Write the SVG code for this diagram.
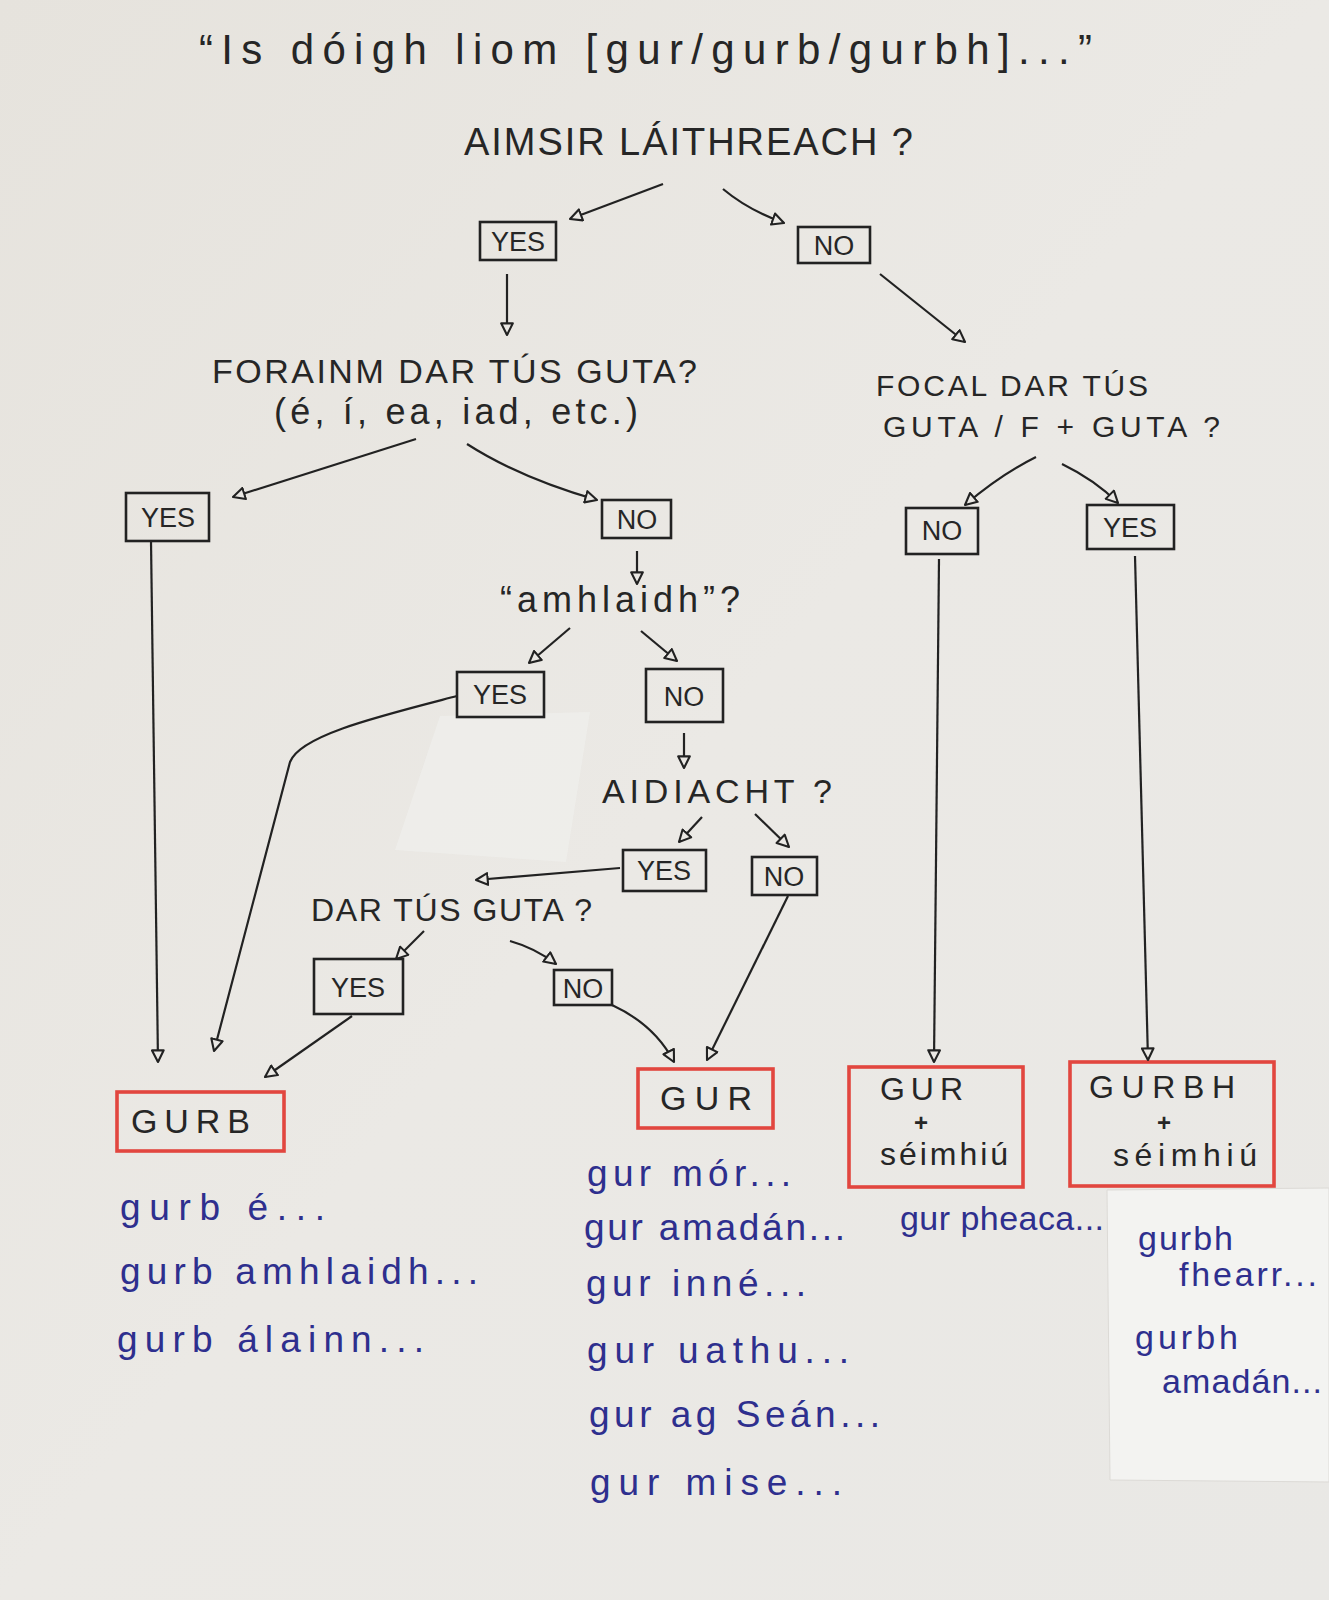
<svg xmlns="http://www.w3.org/2000/svg" width="1329" height="1600" viewBox="0 0 1329 1600">
<defs>
<linearGradient id="paper" x1="0" y1="0" x2="1" y2="1">
<stop offset="0" stop-color="#e6e3dd"/>
<stop offset="0.5" stop-color="#ebe9e5"/>
<stop offset="1" stop-color="#e9e8e5"/>
</linearGradient>
<marker id="ah" viewBox="0 0 12 12" refX="11" refY="6" markerWidth="14" markerHeight="14" markerUnits="userSpaceOnUse" orient="auto">
<path d="M1,1 L11,6 L1,11 Z" fill="#eae8e4" stroke="#222" stroke-width="1.8" stroke-linejoin="round"/>
</marker>
<style>
.t{font-family:"Liberation Sans","DejaVu Sans",sans-serif;fill:#262626;}
.lab{font-size:27px;text-anchor:middle;}
.bx{fill:none;stroke:#222;stroke-width:2.6;}
.rb{fill:none;stroke:#e2463f;stroke-width:3.6;}
.res{font-size:34px;}
.blue{font-family:"Liberation Sans","DejaVu Sans",sans-serif;font-size:37px;fill:#2e2f8e;}
.bs{font-size:34px;}
.c{fill:none;stroke:#222;stroke-width:2.2;marker-end:url(#ah);}
</style>
</defs>
<rect x="0" y="0" width="1329" height="1600" fill="url(#paper)"/>
<polygon points="1107,1190 1329,1188 1329,1482 1110,1480" fill="#f3f3f1" stroke="#dcdad6" stroke-width="1"/>
<polygon points="440,716 590,712 566,862 395,850" fill="#efefed" opacity="0.7"/>

<g id="title">
<text class="t" x="199" y="64" font-size="42" textLength="893" lengthAdjust="spacing">“Is dóigh liom [gur/gurb/gurbh]...”</text>
</g>
<g id="q-aimsir">
<text class="t" x="464" y="155" font-size="38" textLength="449" lengthAdjust="spacing">AIMSIR LÁITHREACH ?</text>
</g>
<g id="yes1"><rect class="bx" x="480" y="222" width="76" height="38"/><text class="t lab" x="518" y="251">YES</text></g>
<g id="no1"><rect class="bx" x="798" y="227" width="72" height="36"/><text class="t lab" x="834" y="255">NO</text></g>

<g id="q-forainm">
<text class="t" x="212" y="383" font-size="34" textLength="485" lengthAdjust="spacing">FORAINM DAR TÚS GUTA?</text>
<text class="t" x="274" y="424" font-size="36" textLength="364" lengthAdjust="spacing">(é, í, ea, iad, etc.)</text>
</g>
<g id="q-focal">
<text class="t" x="876" y="396" font-size="30" textLength="272" lengthAdjust="spacing">FOCAL DAR TÚS</text>
<text class="t" x="883" y="437" font-size="30" textLength="337" lengthAdjust="spacing">GUTA / F + GUTA ?</text>
</g>

<g id="yes2"><rect class="bx" x="126" y="493" width="83" height="48"/><text class="t lab" x="168" y="527">YES</text></g>
<g id="no2"><rect class="bx" x="602" y="500" width="69" height="38"/><text class="t lab" x="637" y="529">NO</text></g>
<g id="no3"><rect class="bx" x="906" y="508" width="72" height="46"/><text class="t lab" x="942" y="540">NO</text></g>
<g id="yes3"><rect class="bx" x="1087" y="505" width="87" height="44"/><text class="t lab" x="1130" y="537">YES</text></g>

<g id="q-amhlaidh">
<text class="t" x="500" y="612" font-size="36" textLength="240" lengthAdjust="spacing">“amhlaidh”?</text>
</g>
<g id="yes4"><rect class="bx" x="457" y="672" width="87" height="45"/><text class="t lab" x="500" y="704">YES</text></g>
<g id="no4"><rect class="bx" x="646" y="669" width="77" height="53"/><text class="t lab" x="684" y="706">NO</text></g>

<g id="q-aidiacht">
<text class="t" x="602" y="803" font-size="34" textLength="230" lengthAdjust="spacing">AIDIACHT ?</text>
</g>
<g id="yes5"><rect class="bx" x="623" y="850" width="83" height="41"/><text class="t lab" x="664" y="880">YES</text></g>
<g id="no5"><rect class="bx" x="752" y="857" width="65" height="38"/><text class="t lab" x="784" y="886">NO</text></g>

<g id="q-dartus">
<text class="t" x="311" y="921" font-size="32" textLength="281" lengthAdjust="spacing">DAR TÚS GUTA ?</text>
</g>
<g id="yes6"><rect class="bx" x="314" y="959" width="89" height="55"/><text class="t lab" x="358" y="997">YES</text></g>
<g id="no6"><rect class="bx" x="554" y="970" width="58" height="35"/><text class="t lab" x="583" y="998">NO</text></g>

<g id="r-gurb"><rect class="rb" x="117" y="1092" width="167" height="59"/><text class="t res" x="131" y="1133" textLength="119" lengthAdjust="spacing">GURB</text></g>
<g id="r-gur"><rect class="rb" x="638" y="1069" width="135" height="59"/><text class="t res" x="660" y="1110" textLength="92" lengthAdjust="spacing">GUR</text></g>
<g id="r-gur-seimhiu"><rect class="rb" x="849" y="1067" width="174" height="120"/>
<text class="t" x="880" y="1100" font-size="32" textLength="83" lengthAdjust="spacing">GUR</text>
<text class="t" x="921" y="1131" font-size="24" font-weight="bold" text-anchor="middle">+</text>
<text class="t" x="880" y="1165" font-size="32" textLength="128" lengthAdjust="spacing">séimhiú</text></g>
<g id="r-gurbh-seimhiu"><rect class="rb" x="1070" y="1062" width="204" height="124"/>
<text class="t" x="1089" y="1098" font-size="32" textLength="146" lengthAdjust="spacing">GURBH</text>
<text class="t" x="1164" y="1131" font-size="24" font-weight="bold" text-anchor="middle">+</text>
<text class="t" x="1113" y="1166" font-size="32" textLength="144" lengthAdjust="spacing">séimhiú</text></g>

<g id="ex-gurb">
<text class="blue" x="120" y="1220" textLength="205" lengthAdjust="spacing">gurb é...</text>
<text class="blue" x="120" y="1284" textLength="358" lengthAdjust="spacing">gurb amhlaidh...</text>
<text class="blue" x="117" y="1352" textLength="307" lengthAdjust="spacing">gurb álainn...</text>
</g>
<g id="ex-gur">
<text class="blue" x="587" y="1186" textLength="204" lengthAdjust="spacing">gur mór...</text>
<text class="blue" x="584" y="1240" textLength="261" lengthAdjust="spacing">gur amadán...</text>
<text class="blue" x="586" y="1296" textLength="220" lengthAdjust="spacing">gur inné...</text>
<text class="blue" x="587" y="1363" textLength="262" lengthAdjust="spacing">gur uathu...</text>
<text class="blue" x="589" y="1427" textLength="291" lengthAdjust="spacing">gur ag Seán...</text>
<text class="blue" x="590" y="1495" textLength="252" lengthAdjust="spacing">gur mise...</text>
</g>
<g id="ex-gur-seimhiu">
<text class="blue bs" x="900" y="1230" textLength="204" lengthAdjust="spacing">gur pheaca...</text>
</g>
<g id="ex-gurbh">
<text class="blue bs" x="1138" y="1250" textLength="95" lengthAdjust="spacing">gurbh</text>
<text class="blue bs" x="1179" y="1286" textLength="138" lengthAdjust="spacing">fhearr...</text>
<text class="blue bs" x="1135" y="1349" textLength="103" lengthAdjust="spacing">gurbh</text>
<text class="blue bs" x="1162" y="1393" textLength="160" lengthAdjust="spacing">amadán...</text>
</g>

<g id="connectors">
<path class="c" d="M663,184 L570,219"/>
<path class="c" d="M723,189 Q748,210 784,223"/>
<path class="c" d="M507,274 L507,335"/>
<path class="c" d="M880,274 L965,342"/>
<path class="c" d="M416,439 L233,497"/>
<path class="c" d="M467,444 Q520,478 597,500"/>
<path class="c" d="M637,551 L637,584"/>
<path class="c" d="M570,628 L529,663"/>
<path class="c" d="M641,631 L677,661"/>
<path class="c" d="M684,733 L684,768"/>
<path class="c" d="M702,817 L679,842"/>
<path class="c" d="M755,814 L789,847"/>
<path class="c" d="M620,868 L476,880"/>
<path class="c" d="M424,931 L396,959"/>
<path class="c" d="M510,941 Q535,948 556,964"/>
<path class="c" d="M352,1016 L265,1077"/>
<path class="c" d="M612,1005 Q655,1025 674,1062"/>
<path class="c" d="M788,896 L707,1060"/>
<path class="c" d="M151,541 L158,1062"/>
<path class="c" d="M457,696 C380,716 300,735 290,762 L214,1051"/>
<path class="c" d="M1036,457 Q1000,475 965,505"/>
<path class="c" d="M1062,464 Q1095,480 1118,503"/>
<path class="c" d="M939,559 L934,1062"/>
<path class="c" d="M1135,556 L1148,1060"/>
</g>
</svg>
